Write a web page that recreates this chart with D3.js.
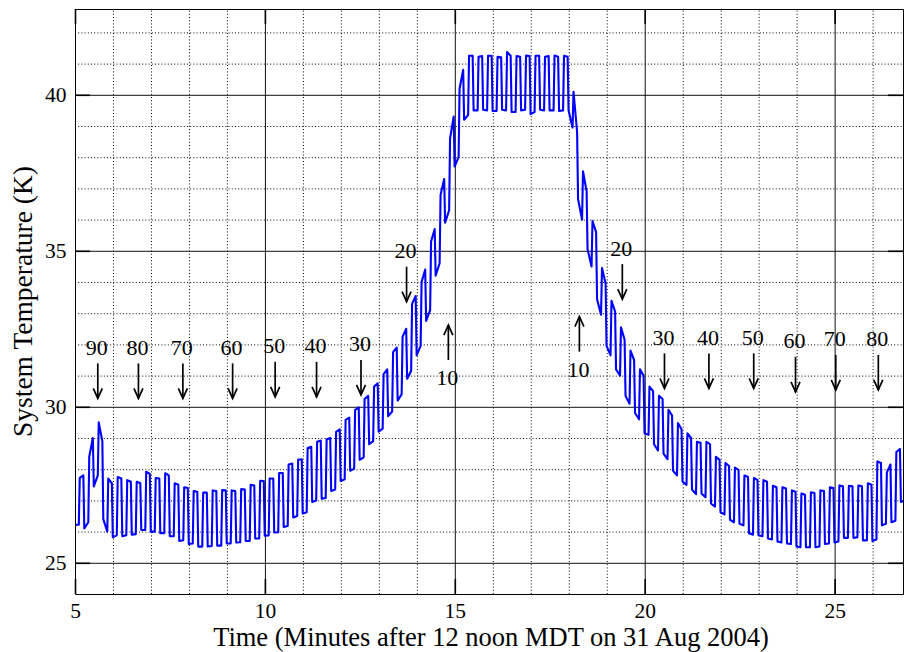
<!DOCTYPE html>
<html><head><meta charset="utf-8">
<script src="https://cdn.jsdelivr.net/npm/d3@7"></script>
<style>
html,body{margin:0;padding:0;background:#fff;}
svg{display:block;}
text{font-family:"Liberation Serif","Times New Roman",serif;fill:#000;}
</style></head><body>
<svg id="chart" width="904" height="652"></svg>
<script>
// ---------------- data ----------------
// switching cycle: rise times start at firstCycleStart, one cycle per cyclePeriod (minutes)
const firstCycleStart = 5.10;
const cyclePeriod = 0.25;
const startTemp = 26.22;
// per-cycle plateau levels (K)
const highStart = [
  27.72,28.40,29.50,27.70,27.75,27.65,27.60,27.92,27.72,27.87,
  27.55,27.42,27.30,27.25,27.32,27.33,27.32,27.36,27.50,27.63,
  27.70,27.88,28.15,28.30,28.68,28.88,28.95,29.20,29.58,29.90,
  30.25,30.65,31.05,31.75,32.25,33.30,34.00,35.30,36.80,38.60,
  40.20,41.25,41.22,41.25,41.22,41.37,41.24,41.26,41.25,41.22,
  41.26,41.25,40.10,37.55,35.95,34.45,33.40,32.55,31.80,31.20,
  30.65,30.35,29.90,29.48,29.15,28.88,28.88,28.40,28.20,28.05,
  27.80,27.72,27.65,27.47,27.42,27.32,27.22,27.26,27.32,27.42,
  27.48,27.47,27.48,27.55,28.25,27.90,28.55];
const highEnd = [
  27.80,29.00,28.90,27.55,27.70,27.60,27.55,27.85,27.70,27.80,
  27.50,27.40,27.28,27.25,27.30,27.32,27.30,27.35,27.48,27.62,
  27.70,27.88,28.18,28.32,28.72,28.92,29.00,29.28,29.65,29.98,
  30.35,30.75,31.20,31.90,32.50,33.55,34.40,35.70,37.30,39.30,
  40.80,41.25,41.24,41.25,41.20,41.25,41.22,41.24,41.25,41.24,
  41.22,41.22,38.80,36.90,35.60,33.95,33.05,32.15,31.50,31.00,
  30.50,30.25,29.72,29.28,29.00,28.85,28.80,28.30,28.10,27.98,
  27.75,27.65,27.60,27.42,27.38,27.28,27.18,27.24,27.30,27.40,
  27.45,27.45,27.45,27.50,28.20,28.15,28.65];
const lowStart = [
  26.10,27.45,26.40,25.82,25.85,25.90,26.05,26.00,25.95,25.85,
  25.70,25.60,25.52,25.52,25.55,25.62,25.65,25.70,25.78,25.87,
  25.97,26.15,26.45,26.58,26.95,27.05,27.30,27.62,27.95,28.30,
  28.80,29.20,29.70,30.20,30.90,31.65,32.75,34.20,35.90,37.70,
  39.20,39.50,39.52,39.48,39.52,39.45,39.50,39.38,39.52,39.50,
  39.48,39.50,36.65,35.05,33.45,31.95,31.20,30.35,29.80,29.15,
  28.80,28.50,27.95,27.60,27.35,27.22,26.90,26.62,26.38,26.25,
  25.95,25.88,25.78,25.68,25.62,25.52,25.50,25.50,25.60,25.65,
  25.80,25.80,25.72,25.70,26.20,26.30,26.95];
const lowEnd = [
  26.30,27.80,26.00,25.88,25.88,25.92,26.05,26.00,25.95,25.85,
  25.72,25.62,25.52,25.54,25.55,25.62,25.66,25.70,25.78,25.88,
  25.98,26.18,26.50,26.62,27.00,27.08,27.35,27.68,28.02,28.38,
  28.90,29.30,29.85,30.40,31.15,31.95,33.10,34.60,36.30,38.00,
  39.35,39.50,39.50,39.48,39.50,39.45,39.52,39.45,39.50,39.50,
  39.50,38.95,36.00,34.50,32.95,31.65,31.00,30.10,29.60,29.10,
  28.60,28.32,27.80,27.50,27.20,27.10,26.80,26.55,26.30,26.20,
  25.90,25.85,25.75,25.65,25.60,25.50,25.50,25.52,25.62,25.68,
  25.80,25.82,25.72,25.75,26.25,26.35,27.00];

const xTicks = [5, 10, 15, 20, 25];
const yTicks = [25, 30, 35, 40];
const xDomain = [5, 26.8];
const yDomain = [24, 42.75];

// annotations: time (min), label, arrow direction, arrow-tip temperature (K)
const annoTime  = [5.60, 6.67, 7.84, 9.15, 10.27, 11.36, 12.53, 13.73, 14.83,
                   18.28, 19.41, 20.52, 21.69, 22.87, 23.97, 25.03, 26.15];
const annoLabel = ["90","80","70","60","50","40","30","20","10",
                   "10","20","30","40","50","60","70","80"];
const annoDir   = ["down","down","down","down","down","down","down","down","up",
                   "up","down","down","down","down","down","down","down"];
const annoTip   = [30.27, 30.27, 30.27, 30.27, 30.32, 30.32, 30.38, 33.37, 32.62,
                   32.89, 33.45, 30.59, 30.59, 30.59, 30.48, 30.54, 30.54];

const xLabel = "Time (Minutes after 12 noon MDT on 31 Aug 2004)";
const yLabel = "System Temperature (K)";

// ---------------- layout ----------------
const L = 75, R = 903, T = 9, B = 594;
const svg = d3.select("#chart");
const x = d3.scaleLinear().domain(xDomain).range([L, R]);
const y = d3.scaleLinear().domain(yDomain).range([B, T]);

// build line series
const pts = [[xDomain[0], startTemp]];
let prev = startTemp;
highStart.forEach((h, k) => {
  const t0 = firstCycleStart + cyclePeriod * k;
  pts.push([t0, prev]);
  pts.push([t0 + 0.025, h]);
  pts.push([t0 + 0.12, highEnd[k]]);
  pts.push([t0 + 0.145, lowStart[k]]);
  prev = lowEnd[k];
});
pts.push([firstCycleStart + cyclePeriod * highStart.length, prev]);

const minorX = d3.range(6, 27).filter(v => v % 5 !== 0);
const minorY = d3.range(25, 43).filter(v => v % 5 !== 0);

// minor dotted grid
svg.append("g").attr("transform", `translate(0,${B})`)
  .call(d3.axisBottom(x).tickValues(minorX).tickSize(-(B - T)).tickFormat(""))
  .call(g => g.select(".domain").remove())
  .selectAll("line").attr("stroke", "#000").attr("stroke-dasharray", "1,2.2");
svg.append("g").attr("transform", `translate(${L},0)`)
  .call(d3.axisLeft(y).tickValues(minorY).tickSize(-(R - L)).tickFormat(""))
  .call(g => g.select(".domain").remove())
  .selectAll("line").attr("stroke", "#000").attr("stroke-dasharray", "1,2.2");

// major solid grid
svg.append("g").attr("transform", `translate(0,${B})`)
  .call(d3.axisBottom(x).tickValues(xTicks).tickSize(-(B - T)).tickFormat(""))
  .call(g => g.select(".domain").remove())
  .selectAll("line").attr("stroke", "#111").attr("stroke-width", 1);
svg.append("g").attr("transform", `translate(${L},0)`)
  .call(d3.axisLeft(y).tickValues(yTicks).tickSize(-(R - L)).tickFormat(""))
  .call(g => g.select(".domain").remove())
  .selectAll("line").attr("stroke", "#111").attr("stroke-width", 1);

// data line
svg.append("clipPath").attr("id", "clip").append("rect")
  .attr("x", L).attr("y", T).attr("width", R - L).attr("height", B - T);
svg.append("path").datum(pts)
  .attr("clip-path", "url(#clip)")
  .attr("fill", "none").attr("stroke", "#0000ff").attr("stroke-width", 2.1)
  .attr("stroke-linejoin", "round")
  .attr("d", d3.line().x(d => x(d[0])).y(d => y(d[1])));

// inward tick marks on all four sides
const tickLen = 15;
function styleTicks(g) {
  g.select(".domain").attr("stroke", "#000").attr("stroke-width", 1);
  g.selectAll("line").attr("stroke", "#000").attr("stroke-width", 1.6);
}
svg.append("g").attr("transform", `translate(0,${B})`)
  .call(d3.axisBottom(x).tickValues(xTicks).tickSizeInner(-tickLen).tickSizeOuter(0).tickFormat(""))
  .call(styleTicks);
svg.append("g").attr("transform", `translate(0,${T})`)
  .call(d3.axisTop(x).tickValues(xTicks).tickSizeInner(-tickLen).tickSizeOuter(0).tickFormat(""))
  .call(styleTicks);
svg.append("g").attr("transform", `translate(${L},0)`)
  .call(d3.axisLeft(y).tickValues(yTicks).tickSizeInner(-tickLen).tickSizeOuter(0).tickFormat(""))
  .call(styleTicks);
svg.append("g").attr("transform", `translate(${R},0)`)
  .call(d3.axisRight(y).tickValues(yTicks).tickSizeInner(-tickLen).tickSizeOuter(0).tickFormat(""))
  .call(styleTicks);

// tick labels
svg.append("g").attr("transform", `translate(0,${B})`)
  .call(d3.axisBottom(x).tickValues(xTicks).tickSize(0).tickPadding(9).tickFormat(d3.format("d")))
  .call(g => g.select(".domain").remove())
  .selectAll("text").attr("font-size", 21.5).attr("font-family", "Liberation Serif, serif");
svg.append("g").attr("transform", `translate(${L},0)`)
  .call(d3.axisLeft(y).tickValues(yTicks).tickSize(0).tickPadding(8.5).tickFormat(d3.format("d")))
  .call(g => g.select(".domain").remove())
  .selectAll("text").attr("font-size", 21.5).attr("font-family", "Liberation Serif, serif");

// annotations
const arrowLen = 35, headW = 4.5, headH = 10;
const ann = svg.append("g").attr("stroke", "#000").attr("stroke-width", 1.7).attr("fill", "none");
annoTime.forEach((t, i) => {
  const ax = x(t), tip = y(annoTip[i]);
  const s = annoDir[i] === "down" ? -1 : 1; // direction from tip to tail
  ann.append("line").attr("x1", ax).attr("x2", ax).attr("y1", tip).attr("y2", tip + s * arrowLen);
  ann.append("path").attr("d", `M${ax - headW},${tip + s * headH}L${ax},${tip}L${ax + headW},${tip + s * headH}`);
  svg.append("text")
    .attr("x", ax - 1)
    .attr("y", s < 0 ? tip - arrowLen - 8.5 : tip + arrowLen + 25)
    .attr("text-anchor", "middle").attr("font-size", 22)
    .text(annoLabel[i]);
});

// axis titles
svg.append("text").attr("x", (L + R) / 2 + 2).attr("y", 645.5)
  .attr("text-anchor", "middle").attr("font-size", 26.5).text(xLabel);
svg.append("text").attr("transform", `translate(31.5,${(T + B) / 2}) rotate(-90)`)
  .attr("text-anchor", "middle").attr("font-size", 27.5).text(yLabel);
</script>
</body></html>
